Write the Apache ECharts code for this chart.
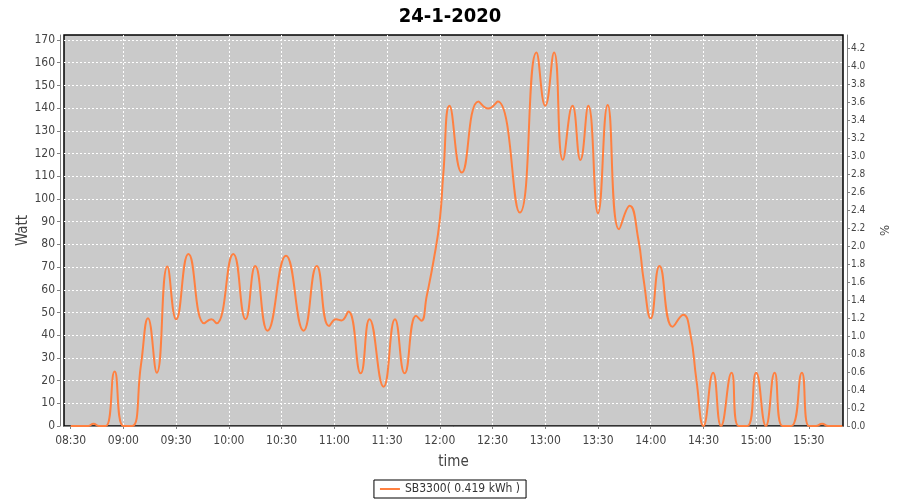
<!DOCTYPE html>
<html>
<head>
<meta charset="utf-8">
<script src="https://cdn.jsdelivr.net/npm/echarts@6/dist/echarts.min.js"></script>
<style>html,body{margin:0;padding:0;background:#fff}#c{width:900px;height:500px}</style>
</head>
<body>
<div id="c"></div>
<script>
const title = '24-1-2020';
const seriesName = 'SB3300( 0.419 kWh )';
const xTickLabels = ['08:30','09:00','09:30','10:00','10:30','11:00','11:30','12:00','12:30','13:00','13:30','14:00','14:30','15:00','15:30'];
const times = ['08:30','08:40','08:43','08:46','08:50','08:55','09:00','09:05','09:10','09:14','09:19','09:25','09:30','09:37','09:46','09:50','09:53',
  '10:02:30','10:09:30','10:15','10:22','10:32:30','10:42:30','10:50','10:57','11:01','11:04','11:08','11:15','11:20','11:28','11:34:30','11:40',
  '11:46:30','11:49:30','11:52:30','11:56:30','12:00','12:02','12:05:30','12:12:30','12:22','12:27:30','12:33','12:45:30','12:55','13:00','13:05',
  '13:10','13:15:30','13:20','13:24:30','13:30','13:35:30','13:42','13:48','13:53','13:56','14:00','14:05','14:12:30','14:18:30','14:22:30','14:26',
  '14:30','14:35:30','14:40','14:46','14:50','14:55','15:00','15:05:30','15:10:30','15:15','15:20','15:26','15:30','15:34','15:37:30','15:41','15:49'];
const watts = [0,0,1,0,0,24,0,0,27,47.5,23.5,70.3,47,75.8,45.2,47,45.2,
  75.8,47,70.5,42,75,42,70.5,44,47,46.5,50.4,23.2,47,17.3,47,23.2,
  48.6,46.4,57,73,90.7,111,141,111.6,142.9,139.8,142.9,94,164.5,141,164.5,
  117.3,141,117.2,141,93.7,141.4,86.7,97,82,64.3,47.4,70.5,43.7,49,40.8,20.3,
  0,23.5,0,23.5,0,0,23.5,0,23.5,0,0,23.5,0,0,1,0,0];

function toMin(s){const p=s.split(':').map(Number);return p[0]*60+p[1]+(p[2]||0)/60;}
function fmt(v){const h=Math.floor(v/60+1e-9), m=Math.round(v-h*60);return (h<10?'0':'')+h+':'+(m<10?'0':'')+m;}
const data = times.map((t,i)=>[toMin(t), watts[i]]);
const tickSet = xTickLabels.map(toMin);

const FONT = "'DejaVu Sans Condensed','Liberation Sans Narrow','DejaVu Sans',sans-serif";
const chart = echarts.init(document.getElementById('c'), null, {renderer:'canvas'});
chart.setOption({
  animation:false,
  backgroundColor:'#ffffff',
  textStyle:{fontFamily:FONT},
  title:{text:title,left:'center',top:2,textStyle:{fontFamily:FONT,fontWeight:'bold',fontSize:20,color:'#000'}},
  grid:{left:64,right:56,top:35,bottom:74,show:true,backgroundColor:'#cacaca',borderColor:'#000',borderWidth:1.5},
  legend:{bottom:2,left:'center',icon:'rect',itemWidth:20,itemHeight:2,itemGap:6,borderColor:'#000',borderWidth:1,padding:[3,6,3,6],
    textStyle:{fontFamily:FONT,fontSize:12,color:'#333'}, data:[seriesName]},
  xAxis:{type:'value',min:506.2,max:949.4,minInterval:30,maxInterval:30,offset:4,
    name:'time',nameLocation:'middle',nameGap:25,nameMoveOverlap:false,nameTextStyle:{fontFamily:FONT,fontSize:15,color:'#444'},
    axisLine:{show:true,lineStyle:{color:'#808080',width:1}},
    axisTick:{show:true,length:3,customValues:tickSet,lineStyle:{color:'#808080'}},
    axisLabel:{fontSize:12,color:'#444',margin:5,customValues:tickSet,formatter:v=>fmt(v)},
    splitLine:{show:true,showMinLine:false,showMaxLine:false,lineStyle:{color:'#ffffff',type:[2,2],width:1}}},
  yAxis:[
    {type:'value',min:0,max:172.2,interval:10,offset:4,position:'left',
      name:'Watt',nameLocation:'middle',nameGap:29,nameMoveOverlap:false,nameRotate:90,nameTextStyle:{fontFamily:FONT,fontSize:15,color:'#444'},
      axisLine:{show:true,lineStyle:{color:'#808080'}},axisTick:{show:true,length:3,lineStyle:{color:'#808080'}},
      axisLabel:{fontSize:12,color:'#444',margin:5,showMaxLabel:false},
      splitLine:{show:true,showMinLine:false,showMaxLine:false,lineStyle:{color:'#ffffff',type:[2,2],width:1}}},
    {type:'value',min:0,max:4.347,interval:0.2,offset:4,position:'right',
      name:'%',nameLocation:'middle',nameGap:32,nameMoveOverlap:false,nameRotate:90,nameTextStyle:{fontFamily:FONT,fontSize:13,color:'#444'},
      axisLine:{show:true,lineStyle:{color:'#808080'}},axisTick:{show:true,length:3,lineStyle:{color:'#808080'}},
      axisLabel:{fontSize:10,color:'#444',margin:4,showMaxLabel:false,formatter:v=>v.toFixed(1)},
      splitLine:{show:false}}
  ],
  series:[{name:seriesName,type:'line',data:data,smooth:0.5,showSymbol:false,symbol:'none',clip:true,
    lineStyle:{color:'#ff8040',width:2},itemStyle:{color:'#ff8040'}}]
});
</script>
</body>
</html>
